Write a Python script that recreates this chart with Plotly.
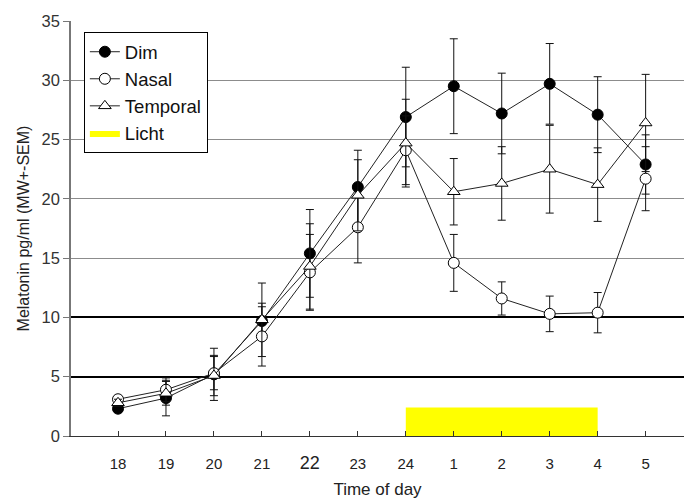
import plotly.graph_objects as go

# Clock hours of the sampling night
hours = ["18", "19", "20", "21", "22", "23", "24", "1", "2", "3", "4", "5"]
pos = list(range(len(hours)))

# Mean melatonin (pg/ml) and SEM per group
dim_mean = [2.3, 3.2, 5.2, 9.7, 15.4, 21.0, 26.9, 29.5, 27.2, 29.7, 27.1, 22.9]
dim_sem = [0.3, 1.5, 2.2, 1.5, 3.7, 3.1, 4.2, 4.0, 3.4, 3.4, 3.2, 2.5]
nasal_mean = [3.1, 3.9, 5.3, 8.4, 13.8, 17.6, 24.1, 14.6, 11.6, 10.3, 10.4, 21.7]
nasal_sem = [0.3, 1.0, 1.4, 2.5, 3.2, 3.0, 2.9, 2.4, 1.4, 1.5, 1.7, 2.7]
temporal_mean = [2.8, 3.6, 5.1, 9.8, 14.3, 20.3, 24.7, 20.6, 21.3, 22.5, 21.2, 26.4]
temporal_sem = [0.3, 1.0, 1.7, 3.1, 3.6, 3.0, 3.7, 2.8, 3.1, 3.7, 3.1, 4.1]

# Light exposure window (from 24 to 4 o'clock) and its drawn height
light_start, light_end = "24", "4"
light_height = 2.4

# Gridlines drawn in black rather than gray
dark_grid = [5, 10]

line_col = "#222222"
fig = go.Figure()

ls = hours.index(light_start)
le = hours.index(light_end)
fig.add_trace(go.Scatter(
    x=[ls, le, le, ls, ls], y=[0, 0, light_height, light_height, 0],
    mode="lines", fill="toself", fillcolor="#ffff00",
    line=dict(width=0, color="#ffff00"), name="Licht", legendrank=4,
))


def group(name, mean, sem, symbol, fill, rank):
    return go.Scatter(
        x=pos, y=mean, name=name, mode="lines+markers", legendrank=rank,
        line=dict(color=line_col, width=1),
        marker=dict(symbol=symbol, size=11, color=fill,
                    line=dict(color="#000000", width=1)),
        error_y=dict(type="data", array=sem, visible=True,
                     color="#111111", thickness=1, width=4),
    )


# Drawn bottom to top: Dim, Nasal, Temporal
fig.add_trace(group("Dim", dim_mean, dim_sem, "circle", "#000000", 1))
fig.add_trace(group("Nasal", nasal_mean, nasal_sem, "circle", "#ffffff", 2))
fig.add_trace(group("Temporal", temporal_mean, temporal_sem, "triangle-up", "#ffffff", 3))

ticktext = [f'<span style="font-size:18px">{h}</span>' if h == "22" else h for h in hours]

fig.update_layout(
    width=684, height=499,
    margin=dict(l=71, r=0, t=21, b=63),
    paper_bgcolor="#ffffff", plot_bgcolor="#ffffff",
    font=dict(family="Liberation Sans, Arial, sans-serif", size=16, color="#222222"),
    showlegend=True,
    legend=dict(
        x=0.021, y=0.973, xanchor="left", yanchor="top",
        bgcolor="#ffffff", bordercolor="#000000", borderwidth=1,
        font=dict(size=18.5, color="#111111"),
        tracegroupgap=0,
    ),
    xaxis=dict(
        range=[-0.98, 11.8], tickmode="array", tickvals=pos, ticktext=ticktext,
        showgrid=False, zeroline=False,
        showline=True, linecolor="#333333", linewidth=1,
        ticks="inside", ticklen=5, tickcolor="#333333",
        ticklabelstandoff=14,
        tickfont=dict(size=15, color="#222222"),
        title=dict(text="Time of day", font=dict(size=17, color="#222222"), standoff=11),
    ),
    yaxis=dict(
        range=[0, 35], tickvals=[0, 5, 10, 15, 20, 25, 30, 35],
        showgrid=True, gridcolor="#8c8c8c", gridwidth=1.2, zeroline=False,
        showline=True, linecolor="#777777", linewidth=1.5,
        ticks="outside", ticklen=6, tickcolor="#777777",
        tickfont=dict(size=16.5, color="#333333"),
        title=dict(text="Melatonin pg/ml (MW+-SEM)", font=dict(size=16, color="#222222"), standoff=8),
    ),
    yaxis2=dict(
        range=[0, 35], overlaying="y", tickvals=dark_grid,
        showticklabels=False, showgrid=True, gridcolor="#000000", gridwidth=1.5,
        zeroline=False, showline=False,
    ),
)

# Invisible helper so that the black gridline axis is rendered
fig.add_trace(go.Scatter(x=[None], y=[None], yaxis="y2", showlegend=False, hoverinfo="skip"))

fig.write_html("out.html")
